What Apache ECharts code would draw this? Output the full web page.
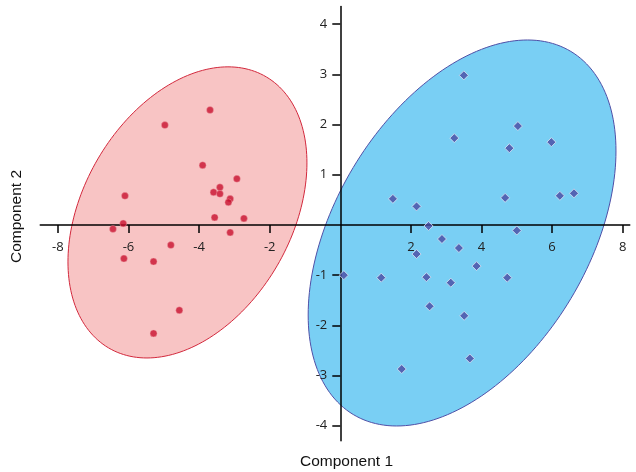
<!DOCTYPE html>
<html>
<head>
<meta charset="utf-8">
<script src="https://cdn.jsdelivr.net/npm/echarts@6/dist/echarts.min.js"></script>
<style>html,body{margin:0;padding:0;background:#fff;}#c{width:636px;height:472px;}</style>
</head>
<body>
<div id="c"></div>
<script>
// Group 1 (red circles): [Component 1, Component 2]
const group1 = [
  [-3.69, 2.29], [-4.97, 1.99], [-3.90, 1.19], [-2.93, 0.92], [-3.41, 0.75],
  [-3.59, 0.65], [-3.41, 0.62], [-3.12, 0.52], [-3.17, 0.45], [-6.10, 0.58],
  [-3.56, 0.15], [-2.73, 0.13], [-6.15, 0.03], [-6.44, -0.08], [-3.12, -0.15],
  [-4.80, -0.40], [-6.13, -0.67], [-5.29, -0.73], [-4.56, -1.70], [-5.29, -2.16]
];
// Group 2 (blue diamonds)
const group2 = [
  [3.50, 2.98], [5.03, 1.97], [3.23, 1.73], [4.79, 1.53], [5.98, 1.65],
  [1.49, 0.52], [2.16, 0.37], [4.67, 0.54], [6.22, 0.58], [6.62, 0.63],
  [2.50, -0.02], [5.00, -0.11], [2.88, -0.28], [2.16, -0.58], [3.36, -0.46],
  [3.86, -0.82], [0.10, -1.00], [1.16, -1.05], [2.44, -1.04], [3.13, -1.15],
  [4.73, -1.05], [2.53, -1.62], [3.51, -1.81], [3.67, -2.66], [1.74, -2.87]
];
// Confidence ellipses: [centerX, centerY, halfWidthX, halfHeightY, cos(phase shift)]
const ellipse1 = [-4.33, 0.25, 3.385, 2.90, 0.34];
const ellipse2 = [3.45, -0.16, 4.36, 3.845, 0.425];
const xTicks = [-8, -6, -4, -2, 2, 4, 6, 8];
const yTicks = [-4, -3, -2, -1, 1, 2, 3, 4];
const xLabel = 'Component 1';
const yLabel = 'Component 2';

const chart = echarts.init(document.getElementById('c'));
const FONT = '"Open Sans", "Noto Sans", sans-serif';
const TFONT = '"Liberation Sans", Arial, sans-serif';

function ellipseItem(fill, stroke) {
  return function (params, api) {
    const cx = api.value(0), cy = api.value(1), rx = api.value(2), ry = api.value(3), c = api.value(4);
    const d = Math.acos(c);
    const pts = [];
    const N = 200;
    for (let i = 0; i < N; i++) {
      const t = (i / N) * Math.PI * 2;
      pts.push(api.coord([cx + rx * Math.cos(t), cy + ry * Math.cos(t - d)]));
    }
    return {
      type: 'polygon',
      shape: { points: pts },
      style: { fill: fill, stroke: stroke, lineWidth: 1 }
    };
  };
}

const GRID = { left: 40.25, right: 6.25, top: 6.6, bottom: 31.2, containLabel: false };

function axisCommon(ticks, margin) {
  return {
    type: 'value', z: 3,
    splitLine: { show: false },
    axisLine: { onZero: false, lineStyle: { color: '#000', width: 1.5 } },
    axisTick: { show: true, customValues: ticks, length: 8, lineStyle: { color: '#000', width: 1.5 } },
    axisLabel: { customValues: ticks, margin: margin, color: '#222', fontSize: 13, fontFamily: FONT }
  };
}

const option = {
  animation: false,
  grid: GRID,
  xAxis: Object.assign(axisCommon(xTicks, 16), { min: -8.5, max: 8.2, position: 'bottom', offset: 0 }),
  yAxis: Object.assign(axisCommon(yTicks, 13), { min: -4.3, max: 4.35, position: 'left', offset: 0 }),
  graphic: [
    { type: 'text', x: 346.5, y: 462, style: { text: xLabel, fontSize: 15.5, fontFamily: TFONT, fill: '#111', align: 'center', verticalAlign: 'middle' } },
    { type: 'text', x: 16.5, y: 216.5, rotation: Math.PI / 2, style: { text: yLabel, fontSize: 15.5, fontFamily: TFONT, fill: '#111', align: 'center', verticalAlign: 'middle' } }
  ],
  series: [
    { type: 'custom', z: 1, renderItem: ellipseItem('#f8c4c4', '#d2283c'), data: [ellipse1], silent: true },
    { type: 'custom', z: 1, renderItem: ellipseItem('#79cff4', '#4f4fa6'), data: [ellipse2], silent: true },
    { type: 'scatter', z: 5, data: group1, symbol: 'circle', symbolSize: 7,
      itemStyle: { color: '#c8102e', borderColor: '#f3b0b4', borderWidth: 0.5 } },
    { type: 'scatter', z: 5, data: group2, symbol: 'diamond', symbolSize: 9,
      itemStyle: { color: '#4a4aa2', borderColor: '#d8e4f4', borderWidth: 1 } }
  ]
};
chart.setOption(option);

// Move the axes so they cross at the data origin (0, 0), using the library's own scales.
const origin = chart.convertToPixel({ gridIndex: 0 }, [0, 0]);
const gridRect = chart.getModel().getComponent('grid', 0).coordinateSystem.getRect();
chart.setOption({
  xAxis: { offset: -((gridRect.y + gridRect.height) - origin[1]) },
  yAxis: { offset: -(origin[0] - gridRect.x) }
});
</script>
</body>
</html>
